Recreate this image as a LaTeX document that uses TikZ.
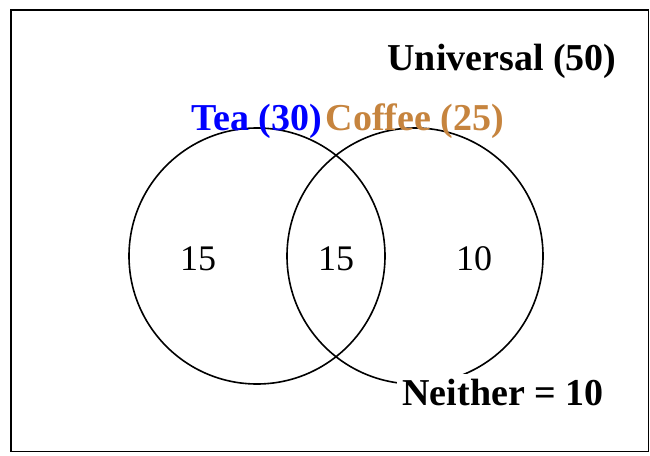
\documentclass[tikz,border=0pt]{standalone}
\usepackage{fontspec}
\setmainfont{Liberation Serif}
\definecolor{coffeec}{RGB}{198,132,62}
\begin{document}
\begin{tikzpicture}[x=1pt,y=-1pt,
  lbl/.style={font=\fontsize{38}{40}\selectfont\bfseries, anchor=base, inner sep=0pt},
  num/.style={font=\fontsize{36}{40}\selectfont, anchor=base, inner sep=0pt},
  setc/.style={draw=black, line width=1.6pt}]
\useasboundingbox (0,0) rectangle (650,455);
\draw[line width=1.8pt] (11,10) rectangle (648.5,451.5);
\node[setc, circle, minimum size=256pt, inner sep=0pt] (tea) at (257,256) {};
\node[setc, circle, minimum size=256pt, inner sep=0pt] (coffee) at (415,256) {};
\node[lbl] (univ) at (502,70) {Universal (50)};
\node[lbl, text=blue] (tealbl) at (257,130) {Tea (30)};
\node[lbl, text=coffeec] (coflbl) at (415,130) {Coffee (25)};
\node[num] (n1) at (198,270) {15};
\node[num] (n2) at (336,270) {15};
\node[num] (n3) at (474,270) {10};
\node[lbl, fill=white, inner sep=5pt] (neither) at (503,405) {Neither = 10};
\end{tikzpicture}
\end{document}
